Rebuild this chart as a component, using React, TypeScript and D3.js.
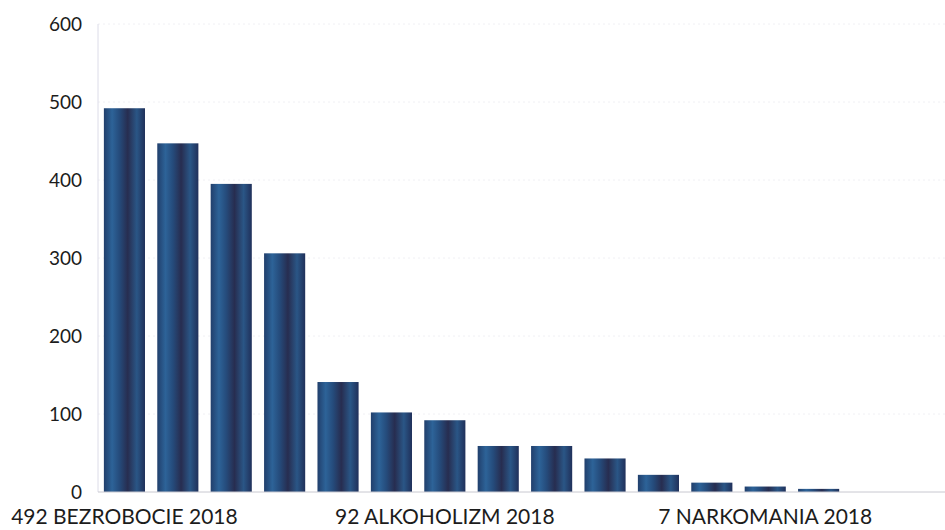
import React from "react";
import * as d3 from "d3";

const categories = [
  "492 BEZROBOCIE 2018",
  "Kategoria 2",
  "Kategoria 3",
  "Kategoria 4",
  "Kategoria 5",
  "Kategoria 6",
  "92 ALKOHOLIZM 2018",
  "Kategoria 8",
  "Kategoria 9",
  "Kategoria 10",
  "Kategoria 11",
  "Kategoria 12",
  "7 NARKOMANIA 2018",
  "Kategoria 14",
  "Kategoria 15",
  "Kategoria 16",
];
const values = [492, 447, 395, 306, 141, 102, 92, 59, 59, 43, 22, 12, 7, 4, 0, 0];
const yTicks = [0, 100, 200, 300, 400, 500, 600];
const labelEvery = 6;

const W = 945;
const H = 530;
const left = 98;
const zeroY = 492;
const topY = 24;

export default function App() {
  const step = 53.4;
  const pInner = 0.23;
  const pOuter = 0.11;
  const n = categories.length;
  const x = d3
    .scaleBand<string>()
    .domain(categories)
    .range([left, left + step * (n - pInner + 2 * pOuter)])
    .paddingInner(pInner)
    .paddingOuter(pOuter);
  const y = d3.scaleLinear().domain([0, 600]).range([zeroY, topY]);
  const font = "Lato, 'Open Sans', sans-serif";

  return (
    <svg
      width={W}
      height={H}
      style={{ position: "absolute", left: 0, top: 0, background: "#fff" }}
    >
      <defs>
        <linearGradient id="barGrad" x1="0" x2="1" y1="0" y2="0">
          <stop offset="0" stopColor="#213f6c" />
          <stop offset="0.2" stopColor="#2d6398" />
          <stop offset="0.38" stopColor="#254b7b" />
          <stop offset="0.58" stopColor="#272d50" />
          <stop offset="0.8" stopColor="#2a5686" />
          <stop offset="1" stopColor="#20305a" />
        </linearGradient>
      </defs>
      {yTicks.slice(1).map((t) => (
        <line
          key={"g" + t}
          x1={left}
          x2={W}
          y1={y(t)}
          y2={y(t)}
          stroke="#f0f0f4"
          strokeDasharray="2,3"
        />
      ))}
      <line x1={left} x2={left} y1={topY} y2={zeroY} stroke="#dcdce8" strokeWidth={1} />
      {categories.map((c, i) => (
        <rect
          key={c}
          x={x(c)}
          y={y(values[i])}
          width={x.bandwidth()}
          height={zeroY - y(values[i])}
          fill="url(#barGrad)"
        />
      ))}
      <line x1={left} x2={W} y1={zeroY} y2={zeroY} stroke="#c8c8d0" strokeWidth={1} />
      {yTicks.map((t) => (
        <text
          key={"t" + t}
          x={82}
          y={y(t)}
          dy="0.35em"
          textAnchor="end"
          fontFamily={font}
          fontSize={19}
          fill="#1c1c1c"
        >
          {t}
        </text>
      ))}
      {categories.map((c, i) =>
        i % labelEvery === 0 ? (
          <text
            key={"l" + c}
            x={(x(c) as number) + x.bandwidth() / 2}
            y={524}
            textAnchor="middle"
            fontFamily={font}
            fontSize={21}
            fill="#1c1c1c"
          >
            {c}
          </text>
        ) : null
      )}
    </svg>
  );
}
